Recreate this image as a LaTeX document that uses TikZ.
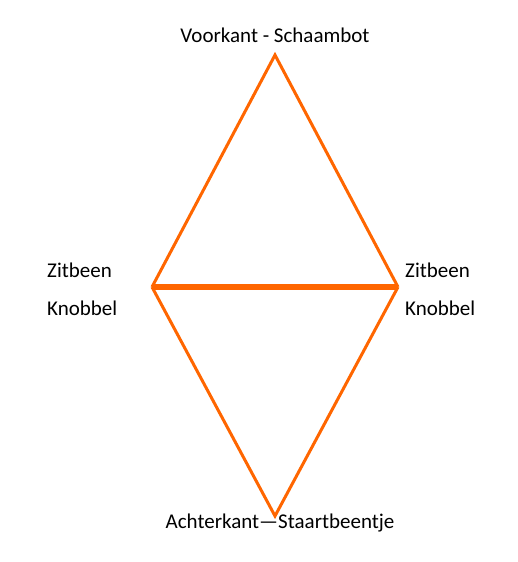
\documentclass[tikz,border=0pt]{standalone}
\usepackage{fontspec}
\setmainfont{Carlito}
\definecolor{edgeorange}{RGB}{255,102,0}
\begin{document}
\begin{tikzpicture}[x=1pt,y=-1pt,
  edge/.style={draw=edgeorange,line width=3pt,line join=miter},
  thick edge/.style={draw=edgeorange,line width=5.5pt},
  lbl/.style={font=\fontsize{21}{25}\selectfont,inner sep=0pt}]
\useasboundingbox (0,0) rectangle (517,562);
\coordinate (top) at (275,55);
\coordinate (left) at (152,287);
\coordinate (right) at (398,287);
\coordinate (bottom) at (275,516);
\draw[edge] (left) -- (top) -- (right);
\draw[edge] (left) -- (bottom) -- (right);
\draw[thick edge] (left) -- (right);
\node[lbl,anchor=base] (tl) at (275,42) {Voorkant - Schaambot};
\node[lbl,anchor=base west] (lz) at (47,277) {Zitbeen};
\node[lbl,anchor=base west] (lk) at (47,315) {Knobbel};
\node[lbl,anchor=base west] (rz) at (405,277) {Zitbeen};
\node[lbl,anchor=base west] (rk) at (405,315) {Knobbel};
\node[lbl,anchor=base] (bl) at (280,528) {Achterkant—Staartbeentje};
\end{tikzpicture}
\end{document}
